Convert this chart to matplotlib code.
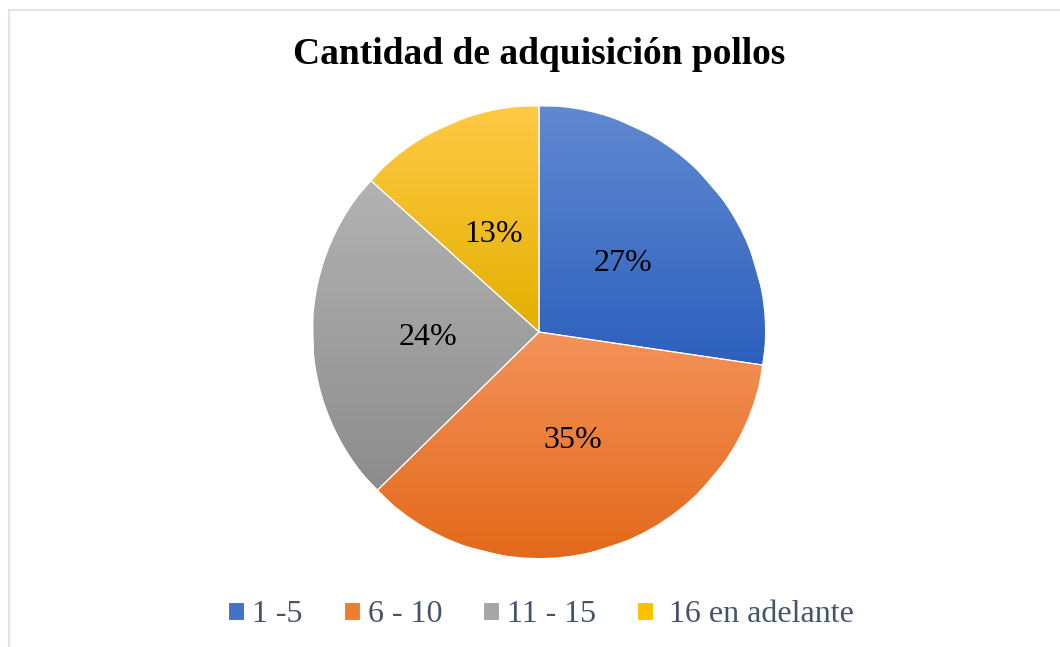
import matplotlib.pyplot as plt
import numpy as np
from matplotlib.colors import LinearSegmentedColormap
from matplotlib.lines import Line2D

############------input-----##############
title = 'Cantidad de adquisición pollos'
categories = ['1 -5', '6 - 10', '11 - 15', ' 16 en adelante']
counts = [41, 53, 36, 20]
# gradient top -> bottom for every slice
tops = ['#6189d0', '#f4925a', '#b3b3b3', '#ffca45']
bottoms = ['#2c60bd', '#e3691a', '#8c8c8c', '#e4af00']
mids = ['#4472c4', '#ed7d31', '#a5a5a5', '#ffc000']
##########################################

plt.rcParams['font.family'] = ['Liberation Serif', 'DejaVu Serif']

W, H = 1060, 647
fig = plt.figure(figsize=(W / 100, H / 100), dpi=100)
ax = fig.add_axes([0, 0, 1, 1])

cx, cy, r = 539, H - 332, 226
wedges, texts, autotexts = ax.pie(counts, colors=mids, startangle=90, counterclock=False,
                                  center=(cx, cy), radius=r, autopct='%1.0f%%', pctdistance=0.49,
                                  wedgeprops=dict(edgecolor='white', linewidth=0.8),
                                  textprops=dict(fontsize=23, color='black'), frame=True)
ax.set_xlim(0, W)
ax.set_ylim(0, H)
ax.set_aspect('equal')
ax.axis('off')

# vertical gradient inside each slice
grad = np.linspace(0, 1, 256).reshape(-1, 1)
for w, t, b in zip(wedges, tops, bottoms):
    bb = w.get_path().get_extents(w.get_patch_transform())
    cmap = LinearSegmentedColormap.from_list('g', [b, t])
    im = ax.imshow(grad, cmap=cmap, origin='lower', aspect='auto', interpolation='bilinear',
                   extent=[bb.x0, bb.x1, bb.y0, bb.y1], zorder=w.get_zorder() + 0.1)
    im.set_clip_path(w)
    edge = plt.Polygon(w.get_path().transformed(w.get_patch_transform()).vertices, closed=True,
                       facecolor='none', edgecolor='white', linewidth=0.8, zorder=w.get_zorder() + 0.2)
    ax.add_patch(edge)
for t in autotexts:
    t.set_zorder(10)
    t.set_va('center_baseline')

ax.set_xlim(0, W)
ax.set_ylim(0, H)
ax.set_aspect('equal')

ax.text(539, H - 54, title, ha='center', va='center', fontsize=27, fontweight='bold')

leg = ax.legend(wedges, categories, ncol=4, loc='center', bbox_to_anchor=(541 / W, 32 / H),
                frameon=False, fontsize=23, handlelength=0.5, handleheight=0.5,
                handletextpad=0.25, columnspacing=1.28)
for txt in leg.get_texts():
    txt.set_color('#44546a')

# chart area border
fig.add_artist(Line2D([9 / W, 1], [1 - 10 / H, 1 - 10 / H], color='#d9dfea', lw=1.2))
fig.add_artist(Line2D([9 / W, 9 / W], [0, 1 - 10 / H], color='#d9dfea', lw=1.2))

plt.savefig('out.png', dpi=100)
